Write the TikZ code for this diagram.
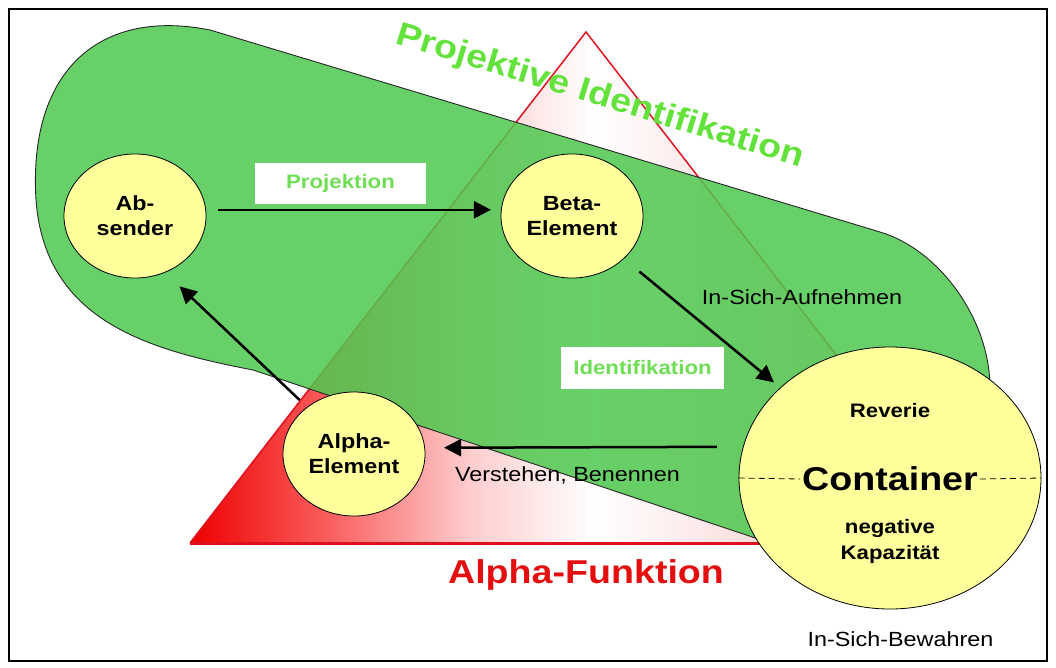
\documentclass[tikz,border=0pt]{standalone}
\usepackage{fontspec}
\setmainfont{Liberation Sans}[FakeStretch=1.14]
\usetikzlibrary{arrows.meta,shapes.geometric,calc}

\definecolor{stadiumgreen}{RGB}{78,200,78}
\definecolor{paleyellow}{RGB}{255,255,155}
\definecolor{titlegreen}{RGB}{100,226,60}
\definecolor{labelgreen}{RGB}{112,222,84}
\definecolor{alphared}{RGB}{228,14,14}
\definecolor{edgered}{RGB}{222,18,30}
\definecolor{fadeA}{RGB}{238,0,0}
\definecolor{fadeB}{RGB}{250,95,95}
\definecolor{fadeC}{RGB}{253,205,205}
\definecolor{fadeE}{RGB}{245,175,175}

% red-to-white fill of the Alpha triangle (bounding box maps to 25bp..75bp)
\pgfdeclarehorizontalshading{alphafade}{100bp}{color(0bp)=(fadeA); color(25bp)=(fadeA); color(33.8bp)=(fadeB); color(42.7bp)=(fadeC); color(50.5bp)=(white); color(75bp)=(fadeE); color(100bp)=(fadeE)}

\tikzset{
  elem/.style={ellipse, draw=black, line width=0.8pt, fill=paleyellow, inner sep=0pt,
    align=center, font=\fontsize{20.5}{25}\selectfont\bfseries},
  labelbox/.style={rectangle, fill=white, inner sep=0pt, text=labelgreen,
    font=\fontsize{19.5}{23}\selectfont\bfseries},
  plain/.style={inner sep=0pt, font=\fontsize{20.5}{24}\selectfont},
  bold/.style={inner sep=0pt, align=center, font=\fontsize{19.5}{26}\selectfont\bfseries},
  arr/.style={line width=2.5pt, -{Triangle[length=17pt,width=17pt]}},
}

\begin{document}
\begin{tikzpicture}[x=1pt,y=-1pt]
\useasboundingbox (0,0) rectangle (1056,668);

% frame
\draw[line width=2pt] (9,9) rectangle (1047,661);

% Alpha-Funktion triangle
\shade[shading=alphafade] (190,543) -- (586,32) -- (982,543) -- cycle;
\draw[edgered, line width=1.5pt, line join=miter] (190,543) -- (586,32) -- (982,543);
\draw[edgered, line width=3pt] (190,543) -- (982,543);

% projective identification band
\path[fill=stadiumgreen, fill opacity=0.85, draw=black!85, line width=0.9pt]
  (210,30) -- (880,232)
  .. controls (940,250) and (990,320) .. (990,388)
  -- (986,470) -- (800,553) -- (253,370)
  .. controls (150,350) and (45,322) .. (36,200)
  .. controls (28,70) and (100,8) .. (210,30) -- cycle;

% white label boxes
\node[labelbox, minimum width=171pt, minimum height=41pt] (projbox) at (340.5,183.5) {Projektion};
\node[labelbox, minimum width=163pt, minimum height=42pt] (identbox) at (642.5,368) {Identifikation};

% elements
\node[elem, minimum width=142pt, minimum height=124pt] (absender) at (135,216) {Ab-\\sender};
\node[elem, minimum width=142pt, minimum height=124pt] (beta) at (572,216) {Beta-\\Element};
\node[elem, minimum width=142pt, minimum height=124pt] (alpha) at (354,454) {Alpha-\\Element};
\node[elem, minimum width=302pt, minimum height=262pt] (container) at (890,478) {};

% container texts
\node[inner sep=2pt, font=\fontsize{33}{36}\selectfont\bfseries] (ctext) at (890,479) {Container};
\draw[line width=0.8pt, dash pattern=on 6pt off 4pt] (container.west) -- (ctext.west);
\draw[line width=0.8pt, dash pattern=on 6pt off 4pt] (ctext.east) -- (container.east);
\node[bold] (reverie) at (890,411) {Reverie};
\node[bold] (negkap) at (890,541) {negative\\Kapazität};

% arrows
\draw[arr, shorten <=12pt, shorten >=10pt] (absender.5) -- (beta.175);
\draw[arr, shorten <=20pt, shorten >=8pt] (beta) -- (container);
\draw[arr, shorten <=26pt, shorten >=19pt] (container.168) -- (alpha.5);
\draw[arr, shorten <=10pt, shorten >=20pt] (alpha.135) -- (absender.-62);

% labels
\node[plain] (aufnehmen) at (802,297) {In-Sich-Aufnehmen};
\node[plain] (verstehen) at (567.5,475) {Verstehen, Benennen};
\node[plain] (bewahren) at (900.5,639) {In-Sich-Bewahren};
\node[inner sep=0pt, text=alphared, font=\fontsize{33}{36}\selectfont\bfseries] (alphafkt) at (586,575) {Alpha-Funktion};
\node[inner sep=0pt, text=titlegreen, rotate=-17, font=\fontsize{33}{36}\selectfont\bfseries] (projid) at (600,97) {Projektive Identifikation};
\end{tikzpicture}
\end{document}
